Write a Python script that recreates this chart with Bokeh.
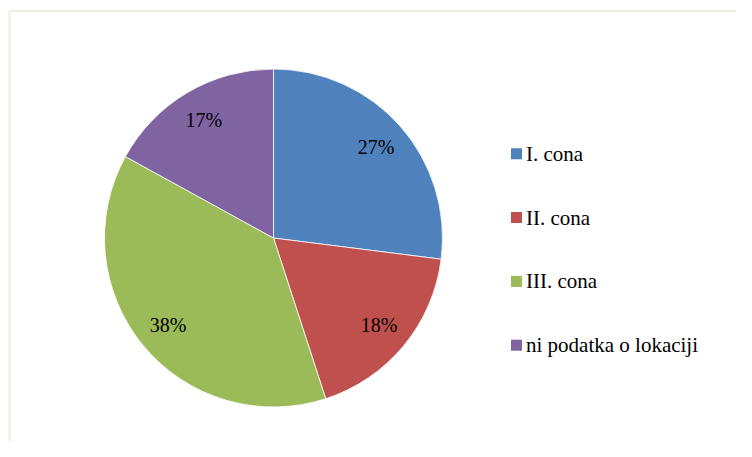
import math
from bokeh.plotting import figure
from bokeh.models import Range1d, ColumnDataSource
from bokeh.core.properties import value
from bokeh.embed import file_html
from bokeh.resources import INLINE

categories = ["I. cona", "II. cona", "III. cona", "ni podatka o lokaciji"]
shares = [27, 18, 38, 17]
labels = ["27%", "18%", "38%", "17%"]
colors = ["#4F81BD", "#C0504D", "#9BBB59", "#8064A2"]

W, H = 736, 441
# layout (pixel units: data units map 1:1 to screen pixels)
CX, CY, R = 273, 203.5, 169
LABEL_R = 0.81
LEG_X, LEG_TOP, LEG_PITCH, LEG_SQ = 516, 287.7, 63.8, 11

total = sum(shares)
starts, ends, lx, ly = [], [], [], []
cum = 0.0
for s in shares:
    a0 = math.pi / 2 - 2 * math.pi * cum / total
    a1 = math.pi / 2 - 2 * math.pi * (cum + s) / total
    starts.append(a0)
    ends.append(a1)
    mid = (a0 + a1) / 2
    lx.append(CX + LABEL_R * R * math.cos(mid))
    ly.append(CY + LABEL_R * R * math.sin(mid))
    cum += s

p = figure(width=W, height=H, x_range=Range1d(0, W), y_range=Range1d(0, H),
           x_axis_type=None, y_axis_type=None, min_border=0,
           toolbar_location=None, output_backend="svg")
p.outline_line_color = None
p.background_fill_color = "white"
p.border_fill_color = "white"

# chart area border (top and left edges visible)
p.segment(x0=[9, 9], y0=[430.5, 430.5], x1=[W, 9], y1=[430.5, 0],
          line_color="#EEECDF", line_width=2)

pie_src = ColumnDataSource(dict(start=starts, end=ends, color=colors, cat=categories))
p.wedge(x=CX, y=CY, radius=R, start_angle="start", end_angle="end",
        direction="clock", fill_color="color", line_color="white",
        line_width=0.8, source=pie_src)

lab_src = ColumnDataSource(dict(x=lx, y=ly, t=labels))
p.text(x="x", y="y", text="t", source=lab_src, text_align="center",
       text_baseline="middle", text_font=value("Liberation Serif"),
       text_font_size="20px", text_color="#000000")

# legend
n = len(categories)
leg_y = [LEG_TOP - i * LEG_PITCH for i in range(n)]
leg_src = ColumnDataSource(dict(
    x=[LEG_X] * n, y=leg_y, tx=[LEG_X + LEG_SQ / 2 + 4] * n,
    color=colors, cat=categories))
p.scatter(x="x", y="y", source=leg_src, marker="square", size=LEG_SQ,
          fill_color="color", line_color=None)
p.text(x="tx", y="y", text="cat", source=leg_src, text_align="left",
       text_baseline="middle", text_font=value("Liberation Serif"),
       text_font_size="21px", text_color="#000000")

open("out.html", "w").write(file_html(p, INLINE))
